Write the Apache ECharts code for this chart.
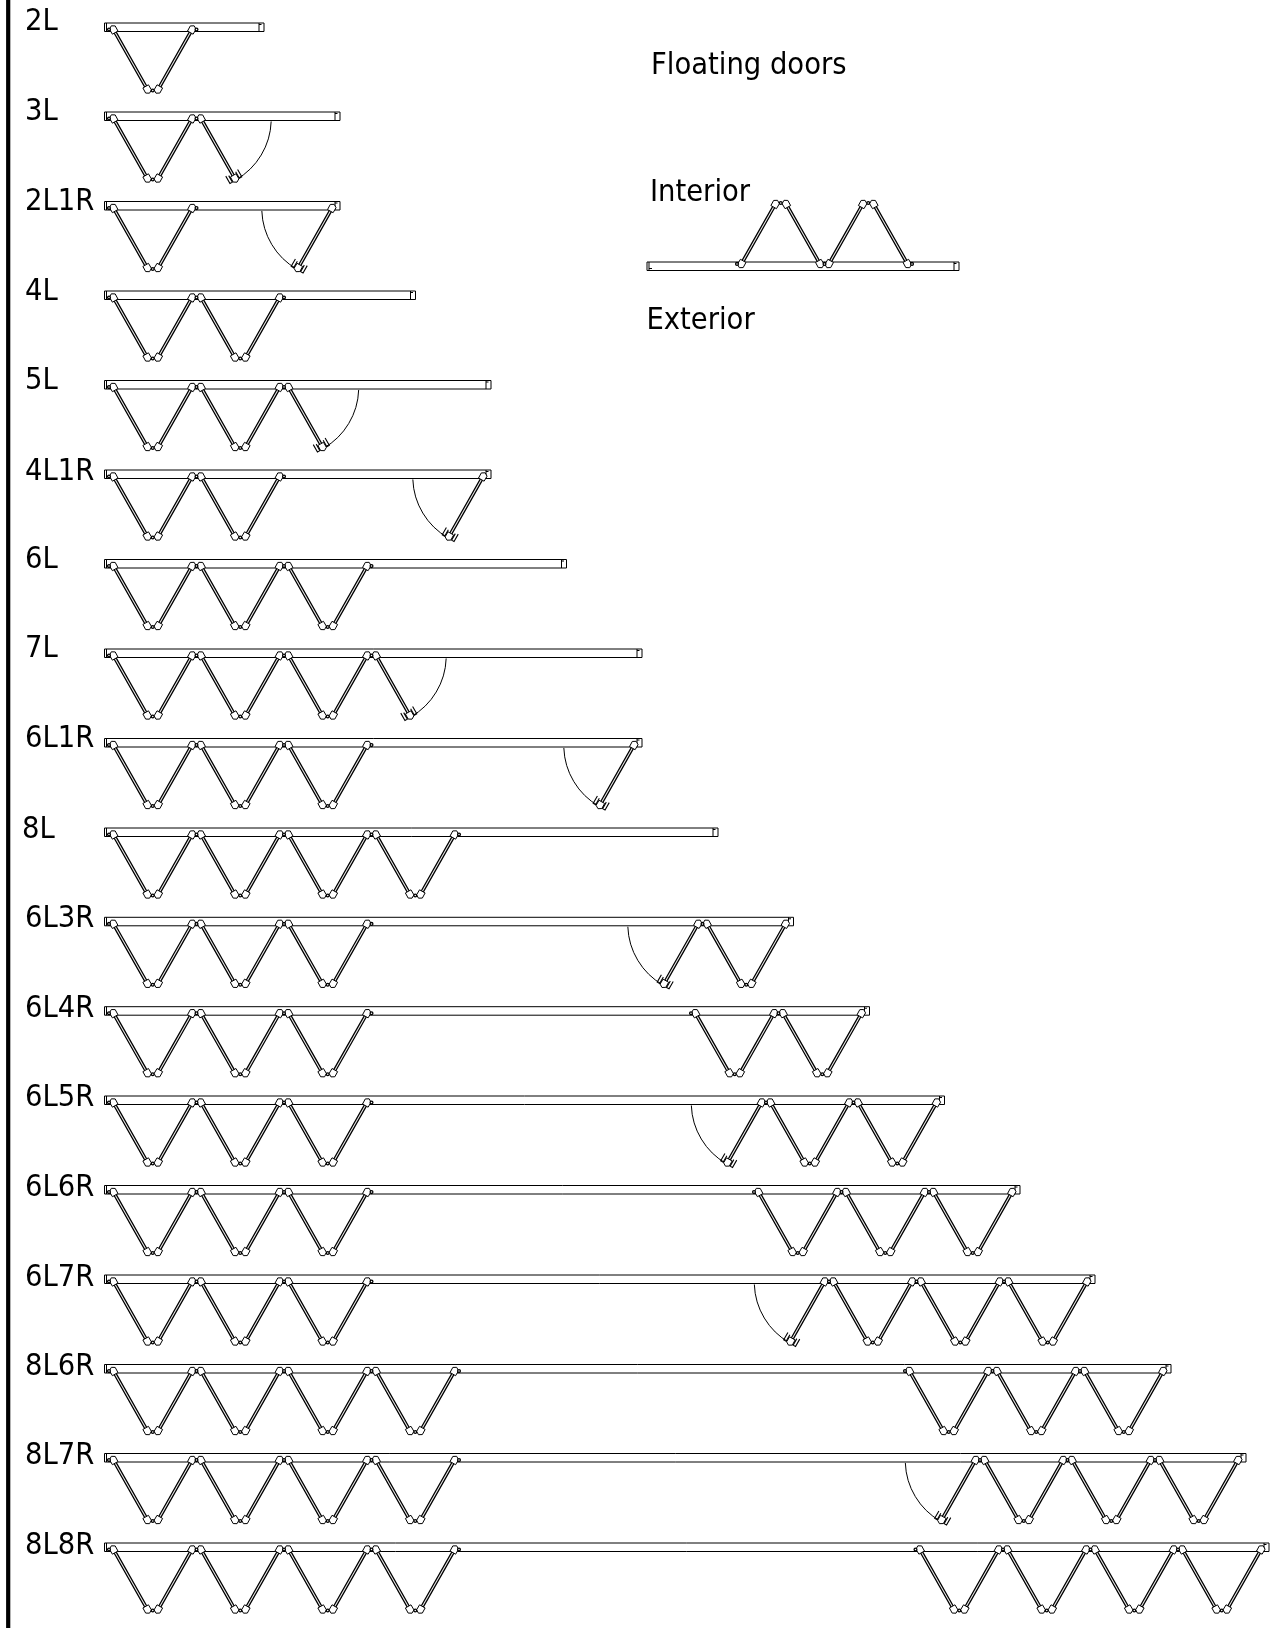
<!DOCTYPE html>
<html><head><meta charset="utf-8">
<style>html,body{margin:0;padding:0;background:#fff}#c{width:1274px;height:1628px}</style>
<script src="https://cdn.jsdelivr.net/npm/echarts@6/dist/echarts.min.js"></script>
</head><body><div id="c"></div>
<script>
// --- values (plan units = page pixels) ---
const rowLabels = ['2L','3L','2L1R','4L','5L','4L1R','6L','7L','6L1R','8L','6L3R','6L4R','6L5R','6L6R','6L7R','8L6R','8L7R','8L8R'];
const railTops  = [23,112,201.5,291,380.5,470,559.5,649,738.5,828,917.3,1006.7,1096,1185.5,1275,1364.5,1453.5,1543];
const railEnds  = [264,340,340,415.5,491,491,566.5,642,642,718,793.5,869.5,944.5,1020,1095,1171,1246,1269];
const leftLeaves  = [2,3,2,4,5,4,6,7,6,8,6,6,6,6,6,8,8,8];
const rightLeaves = [0,0,1,0,0,1,0,0,1,0,3,4,5,6,7,6,7,8];
const labelXs = [25,25,25,25,25,25,25,25,25,22,25,25,25,25,25,25,25,25];
const labelYs = [22,112,202,292,381,472,560,649,739,830,919,1009,1098,1188,1278,1367,1456,1546];
const notes   = ['Floating doors','Interior','Exterior'];
const noteXs  = [651,650,646.5];
const noteYs  = [66,193,321];
const interiorRail = [647,262,959];
const interiorStart = 737, interiorLeaves = 4;
const leftKnuckleStart = 109, leafPitch = 43.75;
const railHeight = 8.5, rightInset = 3.5, swingRadius = 70;
const wallX = 8.2;

// --- derived marks ---
const rails=[], leaves=[], knuckles=[], arcs=[];
function fan(startX, dir, count, base, v, firstCircle){
  for(let i=0;i<count;i++){
    const a=startX+dir*i*leafPitch, b=a+dir*leafPitch;
    const free=(i===count-1 && count%2===1);
    let tx,bx;
    if(i%2===0){tx=a+dir*4.7;bx=b-dir*5.6;} else {tx=b-dir*4.7;bx=a+dir*5.6;}
    leaves.push([tx,base+v*7,bx,base+v*66,free?1:0]);
    if(free) arcs.push([tx,base+v*7,dir]);
  }
  for(let i=firstCircle?0:1;i<=count;i++){
    if(i===count && count%2===1) continue;
    knuckles.push([startX+dir*i*leafPitch, base+v*(i%2===0?6.6:67.5)]);
  }
}
rowLabels.forEach((_,i)=>{
  rails.push([104.5,railTops[i],railEnds[i]]);
  fan(leftKnuckleStart,1,leftLeaves[i],railTops[i],1,true);
  if(rightLeaves[i]) fan(railEnds[i]-rightInset,-1,rightLeaves[i],railTops[i],1,false);
});
rails.push(interiorRail);
fan(interiorStart,1,interiorLeaves,interiorRail[1]+railHeight,-1,true);

const labelData = rowLabels.map((_,i)=>[labelXs[i],labelYs[i]]);
const noteData = notes.map((_,i)=>[noteXs[i],noteYs[i]]);
const INK='#000', FONT='30.5px "DejaVu Sans Condensed","DejaVu Sans",sans-serif';

function railItem(p,api){
  const a=api.coord([api.value(0),api.value(1)]), e=api.coord([api.value(2),api.value(1)]);
  const h=railHeight, x=a[0], y=a[1], r=e[0];
  const ln=(x1,y1,x2,y2,w)=>({type:'line',shape:{x1,y1,x2,y2},style:{stroke:INK,lineWidth:w||1,fill:null}});
  return {type:'group',children:[
    {type:'rect',shape:{x,y,width:r-x,height:h},style:{fill:'#fff',stroke:INK,lineWidth:1}},
    ln(x+2,y,x+2,y+h),ln(x+2,y+h-2,x+5,y+h-2),
    ln(r-5,y,r-5,y+h),ln(r-5,y+1.5,r-2.5,y+1.5)
  ]};
}
function poly(points,fill,w){return {type:'polygon',shape:{points},style:{fill,stroke:INK,lineWidth:w}};}
function block(c,d,n,o){
  const P=(a,b)=>[c[0]+d[0]*a*o+n[0]*b,c[1]+d[1]*a*o+n[1]*b];
  return poly([P(-3,-3.2),P(-3,3.2),P(2.8,3.3),P(4.8,0),P(2.8,-3.3)],'#fff',1);
}
function leafItem(p,api){
  const A=api.coord([api.value(0),api.value(1)]), B=api.coord([api.value(2),api.value(3)]);
  const L=Math.hypot(B[0]-A[0],B[1]-A[1]), d=[(B[0]-A[0])/L,(B[1]-A[1])/L], n=[-d[1],d[0]];
  const off=(q,a,b)=>[q[0]+d[0]*a+n[0]*b,q[1]+d[1]*a+n[1]*b];
  const ch=[poly([off(A,0,-1.15),off(B,0,-1.15),off(B,0,1.15),off(A,0,1.15)],'#e8e8e8',1.25), block(A,d,n,-1), block(B,d,n,1)];
  if(api.value(4)===1){
    [-1,1].forEach(s=>ch.push({type:'polyline',shape:{points:[off(B,-5,s*4),off(B,2.5,s*4),off(B,2.5,s*6.8),off(B,-6,s*6.8)]},style:{fill:null,stroke:INK,lineWidth:1.1}}));
  }
  return {type:'group',children:ch};
}
function knuckleItem(p,api){
  const c=api.coord([api.value(0),api.value(1)]);
  return {type:'circle',shape:{cx:c[0],cy:c[1],r:1.4},style:{fill:'#fff',stroke:INK,lineWidth:1.3}};
}
function arcItem(p,api){
  const c=api.coord([api.value(0),api.value(1)]), dir=api.value(2);
  const r=api.size([swingRadius,0])[0], rad=Math.PI/180;
  const s=dir>0?2*rad:120*rad, e=dir>0?60*rad:178*rad;
  return {type:'arc',shape:{cx:c[0],cy:c[1],r,startAngle:s,endAngle:e,clockwise:true},style:{fill:null,stroke:INK,lineWidth:1}};
}
function wallItem(p,api){
  const a=api.coord([api.value(0),0]), b=api.coord([api.value(0),1628]);
  return {type:'line',shape:{x1:a[0],y1:a[1],x2:b[0],y2:b[1]},style:{stroke:INK,lineWidth:4.2}};
}
function textItem(list){return (p,api)=>{
  const c=api.coord([api.value(0),api.value(1)]);
  return {type:'text',style:{text:list[p.dataIndex],x:c[0],y:c[1],font:FONT,fill:'#000',align:'left',verticalAlign:'middle'}};
};}
const base={type:'custom',silent:true,clip:false,animation:false,coordinateSystem:'cartesian2d'};
echarts.init(document.getElementById('c'),null,{renderer:'canvas'}).setOption({
  animation:false,backgroundColor:'#fff',
  grid:{left:0,right:0,top:0,bottom:0},
  xAxis:{type:'value',min:0,max:1274,show:false},
  yAxis:{type:'value',min:0,max:1628,inverse:true,show:false},
  series:[
    {...base,data:[[wallX]],renderItem:wallItem},
    {...base,data:rails,renderItem:railItem},
    {...base,data:arcs,renderItem:arcItem},
    {...base,data:leaves,renderItem:leafItem},
    {...base,data:knuckles,renderItem:knuckleItem},
    {...base,data:labelData,renderItem:textItem(rowLabels)},
    {...base,data:noteData,renderItem:textItem(notes)}
  ]
});
</script></body></html>
